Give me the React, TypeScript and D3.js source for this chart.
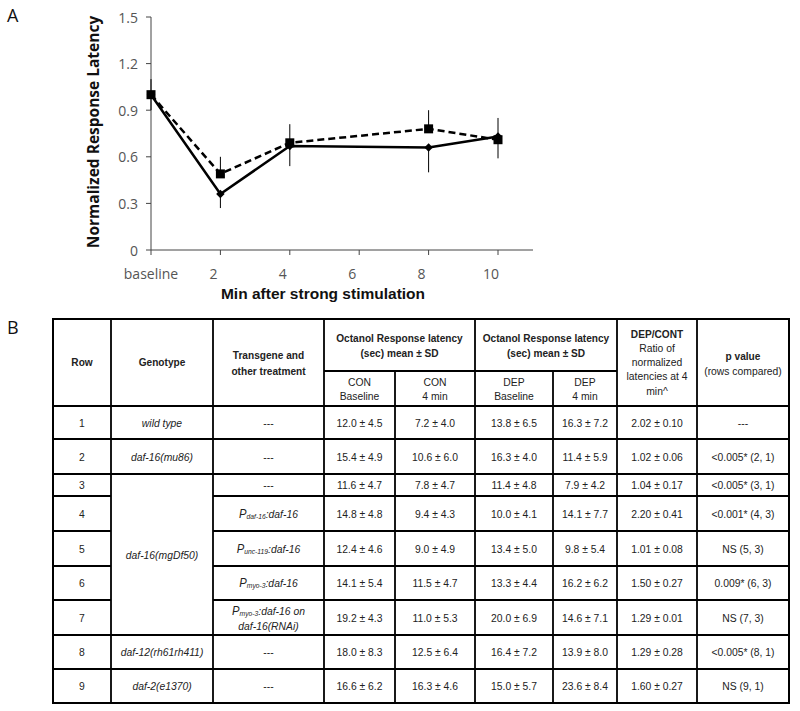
import React from "react";
import * as d3 from "d3";

// ---------- Chart data ----------
const categories = ["baseline", "2", "4", "6", "8", "10"];
const yTicks = [0, 0.3, 0.6, 0.9, 1.2, 1.5];
// dashed series (squares)
const dashedCats = ["baseline", "2", "4", "8", "10"];
const dashedValues = [1.0, 0.49, 0.69, 0.78, 0.71];
const dashedErrUp = [0.1, 0.11, 0.12, 0.12, 0.14];
// solid series (diamonds)
const solidCats = ["baseline", "2", "4", "8", "10"];
const solidValues = [1.0, 0.36, 0.67, 0.66, 0.73];
const solidErrDown = [0.1, 0.09, 0.13, 0.16, 0.14];

// ---------- Table data ----------
const rowNums = ["1", "2", "3", "4", "5", "6", "7", "8", "9"];
const genotypes = ["wild type", "daf-16(mu86)", "daf-16(mgDf50)", "daf-16(mgDf50)", "daf-16(mgDf50)", "daf-16(mgDf50)", "daf-16(mgDf50)", "daf-12(rh61rh411)", "daf-2(e1370)"];
const transgeneSub = ["", "", "", "daf-16", "unc-119", "myo-3", "myo-3", "", ""];
const transgeneRest = ["---", "---", "---", ":daf-16", ":daf-16", ":daf-16", ":daf-16 on", "---", "---"];
const transgeneLine2 = ["", "", "", "", "", "", "daf-16(RNAi)", "", ""];
const conBaseline = ["12.0 ± 4.5", "15.4 ± 4.9", "11.6 ± 4.7", "14.8 ± 4.8", "12.4 ± 4.6", "14.1 ± 5.4", "19.2 ± 4.3", "18.0 ± 8.3", "16.6 ± 6.2"];
const con4min = ["7.2 ± 4.0", "10.6 ± 6.0", "7.8 ± 4.7", "9.4 ± 4.3", "9.0 ± 4.9", "11.5 ± 4.7", "11.0 ± 5.3", "12.5 ± 6.4", "16.3 ± 4.6"];
const depBaseline = ["13.8 ± 6.5", "16.3 ± 4.0", "11.4 ± 4.8", "10.0 ± 4.1", "13.4 ± 5.0", "13.3 ± 4.4", "20.0 ± 6.9", "16.4 ± 7.2", "15.0 ± 5.7"];
const dep4min = ["16.3 ± 7.2", "11.4 ± 5.9", "7.9 ± 4.2", "14.1 ± 7.7", "9.8 ± 5.4", "16.2 ± 6.2", "14.6 ± 7.1", "13.9 ± 8.0", "23.6 ± 8.4"];
const ratios = ["2.02 ± 0.10", "1.02 ± 0.06", "1.04 ± 0.17", "2.20 ± 0.41", "1.01 ± 0.08", "1.50 ± 0.27", "1.29 ± 0.01", "1.29 ± 0.28", "1.60 ± 0.27"];
const pValues = ["---", "<0.005* (2, 1)", "<0.005* (3, 1)", "<0.001* (4, 3)", "NS (5, 3)", "0.009* (6, 3)", "NS (7, 3)", "<0.005* (8, 1)", "NS (9, 1)"];

const colX = [53, 111, 213, 324, 395, 475, 553, 617, 697, 789];
const tableTop = 319;
const subHeaderY = 371;
const headerBottom = 406;
const rowBottoms = [439, 474, 496, 531, 566, 600, 635, 669, 703];

const TF = "'Liberation Sans', Arial, sans-serif";
const TXT = "#222";
const HB = 0.88;

function T({ x, y, children, bold = false, italic = false, size = 11.5, sx = 0.9 }: any) {
  return (
    <g transform={`translate(${x},${y}) scale(${sx},1)`}>
      <text textAnchor="middle" dominantBaseline="central" fontFamily={TF} fontSize={size}
        fontWeight={bold ? "bold" : "normal"} fontStyle={italic ? "italic" : "normal"} fill={TXT}>
        {children}
      </text>
    </g>
  );
}

export default function App() {
  const x = d3.scalePoint<string>().domain(categories).range([151, 498]);
  const y = d3.scaleLinear().domain([0, 1.5]).range([250, 17]);
  const lineGen = d3.line<[string, number]>().x((d) => x(d[0])!).y((d) => y(d[1]));
  const dashedPts: [string, number][] = dashedCats.map((c, i) => [c, dashedValues[i]]);
  const solidPts: [string, number][] = solidCats.map((c, i) => [c, solidValues[i]]);

  const rowTops = [headerBottom, ...rowBottoms.slice(0, -1)];
  const cx = (i: number) => (colX[i] + colX[i + 1]) / 2;
  const mergedStart = 2, mergedEnd = 6;

  const lines: JSX.Element[] = [];
  const sw = 1.8;
  colX.slice(1, -1).forEach((cxv, i) => {
    const y0 = cxv === 395 || cxv === 553 ? subHeaderY : tableTop;
    lines.push(<line key={"v" + i} x1={cxv} x2={cxv} y1={y0} y2={rowBottoms[8]} stroke="#000" strokeWidth={sw} />);
  });
  lines.push(<line key="sub" x1={324} x2={617} y1={subHeaderY} y2={subHeaderY} stroke="#000" strokeWidth={sw} />);
  lines.push(<line key="hb" x1={53} x2={789} y1={headerBottom} y2={headerBottom} stroke="#000" strokeWidth={sw} />);
  rowBottoms.slice(0, -1).forEach((yb, i) => {
    const inMerged = i >= mergedStart && i < mergedEnd;
    if (inMerged) {
      lines.push(<line key={"h" + i + "a"} x1={53} x2={111} y1={yb} y2={yb} stroke="#000" strokeWidth={sw} />);
      lines.push(<line key={"h" + i + "b"} x1={213} x2={789} y1={yb} y2={yb} stroke="#000" strokeWidth={sw} />);
    } else {
      lines.push(<line key={"h" + i} x1={53} x2={789} y1={yb} y2={yb} stroke="#000" strokeWidth={sw} />);
    }
  });

  return (
    <svg width={800} height={711} style={{ display: "block", position: "absolute", left: 0, top: 0 }}>
      <rect width={800} height={711} fill="#fff" />
      {/* Panel labels */}
      <text x={7} y={22} fontFamily="'Open Sans', sans-serif" fontSize={18} fill="#111">A</text>
      <text x={7} y={334} fontFamily="'Open Sans', sans-serif" fontSize={18} fill="#111">B</text>

      {/* Chart axes */}
      <line x1={151} x2={151} y1={17} y2={250} stroke="#444" strokeWidth={1} />
      <line x1={151} x2={533} y1={250} y2={250} stroke="#444" strokeWidth={1} />
      {yTicks.map((t) => (
        <g key={t}>
          <line x1={146} x2={151} y1={y(t)} y2={y(t)} stroke="#444" />
          <text x={138} y={y(t)} textAnchor="end" dominantBaseline="central" fontFamily="'Open Sans', sans-serif" fontSize={14} fill="#555">
            {t === 0 ? "0" : t.toFixed(1)}
          </text>
        </g>
      ))}
      {categories.map((c) => (
        <g key={c}>
          <line x1={x(c)!} x2={x(c)!} y1={250} y2={255} stroke="#444" />
          <text x={x(c)! - (c === "baseline" ? 0 : 7)} y={273} textAnchor="middle" dominantBaseline="central" fontFamily="'Open Sans', sans-serif" fontSize={14} fill="#555">
            {c}
          </text>
        </g>
      ))}
      <text transform="translate(93,132) rotate(-90)" textAnchor="middle" dominantBaseline="central" fontFamily="'Open Sans', sans-serif" fontWeight="bold" fontSize={15.5} fill="#111">
        Normalized Response Latency
      </text>
      <text x={323} y={293} textAnchor="middle" dominantBaseline="central" fontFamily={TF} fontWeight="bold" fontSize={15.5} fill="#111">
        Min after strong stimulation
      </text>

      {/* Error bars */}
      {dashedCats.map((c, i) => (
        <line key={"de" + c} x1={x(c)!} x2={x(c)!} y1={y(dashedValues[i])} y2={y(dashedValues[i] + dashedErrUp[i])} stroke="#000" strokeWidth={1} />
      ))}
      {solidCats.map((c, i) => (
        <line key={"se" + c} x1={x(c)!} x2={x(c)!} y1={y(solidValues[i])} y2={y(solidValues[i] - solidErrDown[i])} stroke="#000" strokeWidth={1} />
      ))}
      {/* Lines */}
      <path d={lineGen(solidPts)!} fill="none" stroke="#000" strokeWidth={2.5} />
      <path d={lineGen(dashedPts)!} fill="none" stroke="#000" strokeWidth={2.5} strokeDasharray="7,4" />
      {solidPts.map((p) => (
        <rect key={"sd" + p[0]} x={-3} y={-3} width={6} height={6} fill="#000"
          transform={`translate(${x(p[0])},${y(p[1])}) rotate(45)`} />
      ))}
      {dashedPts.map((p) => (
        <rect key={"sq" + p[0]} x={x(p[0])! - 4.5} y={y(p[1]) - 4.5} width={9} height={9} fill="#000" />
      ))}

      {/* Table */}
      <rect x={53} y={tableTop} width={789 - 53} height={rowBottoms[8] - tableTop} fill="none" stroke="#000" strokeWidth={2} />
      {lines}
      {/* Header */}
      <T x={cx(0)} y={362} bold sx={HB}>Row</T>
      <T x={cx(1)} y={362} bold sx={HB}>Genotype</T>
      <T x={cx(2)} y={355} bold sx={HB}>Transgene and</T>
      <T x={cx(2)} y={371} bold sx={HB}>other treatment</T>
      <T x={(324 + 475) / 2} y={338} bold sx={HB}>Octanol Response latency</T>
      <T x={(324 + 475) / 2} y={353} bold sx={HB}>(sec) mean ± SD</T>
      <T x={(475 + 617) / 2} y={338} bold sx={HB}>Octanol Response latency</T>
      <T x={(475 + 617) / 2} y={353} bold sx={HB}>(sec) mean ± SD</T>
      <T x={cx(3)} y={382}>CON</T>
      <T x={cx(3)} y={396}>Baseline</T>
      <T x={cx(4)} y={382}>CON</T>
      <T x={cx(4)} y={396}>4 min</T>
      <T x={cx(5)} y={382}>DEP</T>
      <T x={cx(5)} y={396}>Baseline</T>
      <T x={cx(6)} y={382}>DEP</T>
      <T x={cx(6)} y={396}>4 min</T>
      <T x={cx(7)} y={334} bold sx={HB}>DEP/CONT</T>
      <T x={cx(7)} y={348}>Ratio of</T>
      <T x={cx(7)} y={362}>normalized</T>
      <T x={cx(7)} y={376}>latencies at 4</T>
      <T x={cx(7)} y={391}>min^</T>
      <T x={cx(8)} y={356} bold sx={HB}>p value</T>
      <T x={cx(8)} y={371}>(rows compared)</T>

      {/* Body */}
      {rowNums.map((r, i) => {
        const my = (rowTops[i] + rowBottoms[i]) / 2;
        const two = transgeneLine2[i] !== "";
        return (
          <g key={"r" + r}>
            <T x={cx(0)} y={my}>{r}</T>
            {(i < mergedStart || i > mergedEnd) && <T x={cx(1)} y={my} italic>{genotypes[i]}</T>}
            {transgeneSub[i] === "" ? (
              <T x={cx(2)} y={my}>{transgeneRest[i]}</T>
            ) : (
              <g transform={`translate(${cx(2)},${two ? my - 7 : my}) scale(0.9,1)`}>
                <text textAnchor="middle" dominantBaseline="central" fontFamily={TF} fontSize={11.5} fontStyle="italic" fill={TXT}>
                  <tspan fontSize={12.5}>P</tspan>
                  <tspan fontSize={7.5} dy={3}>{transgeneSub[i]}</tspan>
                  <tspan dy={-3}>{transgeneRest[i]}</tspan>
                </text>
              </g>
            )}
            {two && <T x={cx(2)} y={my + 8} italic>{transgeneLine2[i]}</T>}
            <T x={cx(3)} y={my}>{conBaseline[i]}</T>
            <T x={cx(4)} y={my}>{con4min[i]}</T>
            <T x={cx(5)} y={my}>{depBaseline[i]}</T>
            <T x={cx(6)} y={my}>{dep4min[i]}</T>
            <T x={cx(7)} y={my}>{ratios[i]}</T>
            <T x={cx(8)} y={my}>{pValues[i]}</T>
          </g>
        );
      })}
      <T x={cx(1)} y={(rowTops[mergedStart] + rowBottoms[mergedEnd]) / 2} italic>{genotypes[mergedStart]}</T>
    </svg>
  );
}
